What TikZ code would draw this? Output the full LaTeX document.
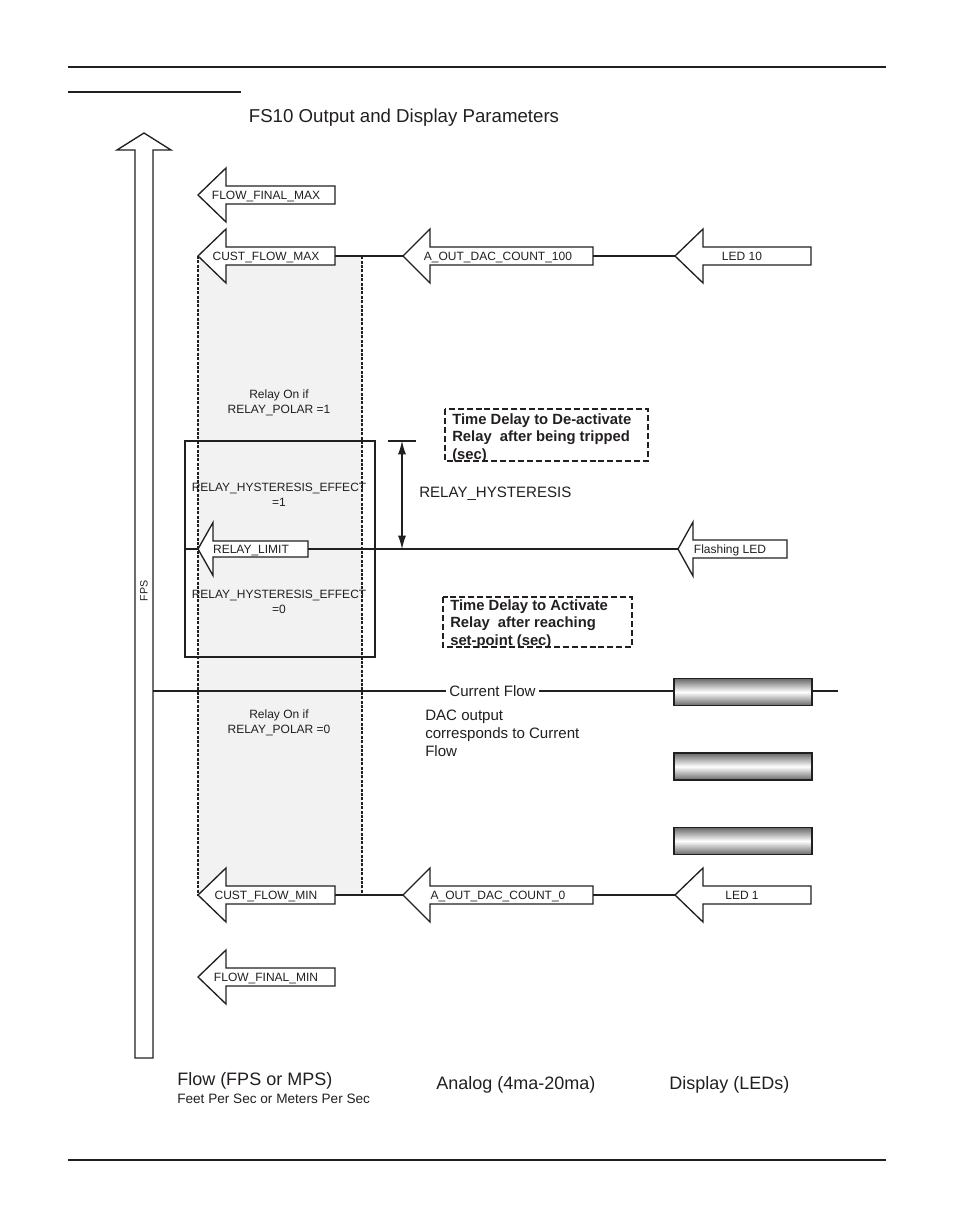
\documentclass[tikz,border=0pt]{standalone}
\usepackage{fontspec}
\setmainfont{Liberation Sans}
\usetikzlibrary{arrows.meta}
\definecolor{ink}{HTML}{231F20}
\definecolor{paleshade}{HTML}{F2F2F2}

% #1 name, #2 tip x, #3 y, #4 head back x, #5 body right x, #6 body half height, #7 head half height, #8 label x, #9 label
\newcommand{\blockarr}[9]{%
  \draw[abox] (#2,#3) -- (#4,#3-#7) -- (#4,#3-#6) -- (#5,#3-#6) -- (#5,#3+#6) -- (#4,#3+#6) -- (#4,#3+#7) -- cycle;
  \coordinate (#1-tip) at (#2,#3);
  \coordinate (#1-end) at (#5,#3);
  \node[lbl, anchor=base] (#1) at (#8,#3+4.4) {#9};
}

\begin{document}
\begin{tikzpicture}[x=0.75pt,y=-0.75pt,
  abox/.style={draw=ink, fill=white, line width=1pt, line join=miter},
  lbl/.style={font=\fontsize{9}{11}\selectfont, inner sep=0pt, text=ink},
  small/.style={font=\fontsize{9}{11.3}\selectfont, inner sep=0pt, text=ink, align=center},
  mid/.style={font=\fontsize{11.3}{13.5}\selectfont, inner sep=0pt, text=ink},
  boldtxt/.style={font=\fontsize{11.1}{13.1}\selectfont\bfseries, inner sep=0pt, text=ink, align=left},
  big/.style={font=\fontsize{13.5}{16}\selectfont, inner sep=0pt, text=ink},
  rule/.style={draw=ink, line width=1.5pt},
  conn/.style={draw=ink, line width=1pt},
  thickconn/.style={draw=ink, line width=2pt},
  dbox/.style={draw=ink, line width=1.1pt, dash pattern=on 4.5pt off 2.2pt},
  ledbar/.style={draw=ink, line width=1.2pt, minimum width=103.5pt, minimum height=20.5pt, inner sep=0pt,
     top color=gray!80!black, bottom color=gray!80!black, middle color=white}
]
\useasboundingbox (0,0) rectangle (954,1227);
\fill[white] (0,0) rectangle (954,1227);

% page rules
\draw[rule] (68,67) -- (886,67);
\draw[rule] (68,92) -- (241,92);
\draw[rule] (68,1160) -- (886,1160);

% title
\node[font=\fontsize{14}{16}\selectfont, inner sep=0pt, text=ink] (title) at (404,118) {FS10 Output and Display Parameters};

% shaded band
\fill[paleshade] (198,256) rectangle (362,895);

% relay box
\draw[draw=ink, line width=0.9pt] (185,441) rectangle (375,657);
\coordinate (rbox-left) at (185,549);

% band dashed edges
\draw[draw=ink, line width=1.1pt, dash pattern=on 2.2pt off 1.1pt] (198,256) -- (198,895) -- (362,895) -- (362,256) -- (335,256);

% texts inside band
\node[small] (polar1) at (279,402.5) {Relay On if\\RELAY\_POLAR =1};
\node[small] (hyst1) at (279,494.5) {RELAY\_HYSTERESIS\_EFFECT\\=1};
\node[small] (hyst0) at (279,602) {RELAY\_HYSTERESIS\_EFFECT\\=0};
\node[small] (polar0) at (279,722.5) {Relay On if\\RELAY\_POLAR =0};

% big FPS arrow
\draw[abox] (135,1058) -- (135,150) -- (117,150) -- (144,133) -- (171,150) -- (153,150) -- (153,1058) -- cycle;
\coordinate (shaft) at (153,691);
\node[lbl, rotate=90, font=\fontsize{8}{9}\selectfont] (fps) at (144,591) {FPS};

% block arrows
\blockarr{ffmax}{198}{195}{226}{335}{9}{27}{266}{FLOW\_FINAL\_MAX}
\blockarr{cfmax}{198}{256}{226}{335}{9}{27}{266}{CUST\_FLOW\_MAX}
\blockarr{aout100}{403}{256}{430}{593}{9}{27}{498}{A\_OUT\_DAC\_COUNT\_100}
\blockarr{led10}{675}{256}{703}{811}{9}{27}{742}{LED 10}
\blockarr{rlimit}{198}{549}{213}{308}{8}{26.5}{251}{RELAY\_LIMIT}
\blockarr{flash}{678}{549}{693}{787}{9}{27}{730}{Flashing LED}
\blockarr{cfmin}{198}{895}{226}{335}{9}{27}{266}{CUST\_FLOW\_MIN}
\blockarr{aout0}{403}{895}{430}{593}{9}{27}{498}{A\_OUT\_DAC\_COUNT\_0}
\blockarr{led1}{675}{895}{703}{811}{9}{27}{742}{LED 1}
\blockarr{ffmin}{198}{977}{226}{335}{9}{27}{266}{FLOW\_FINAL\_MIN}

% connectors
\draw[conn] (cfmax-end) -- (aout100-tip);
\draw[conn] (aout100-end) -- (led10-tip);
\draw[conn] (cfmin-end) -- (aout0-tip);
\draw[conn] (aout0-end) -- (led1-tip);
\draw[thickconn] (rlimit-end) -- (flash-tip);
\draw[thickconn] (rbox-left) -- (rlimit-tip);

% hysteresis dimension
\coordinate (hysttop-l) at (388,441);
\coordinate (hysttop-r) at (416,441);
\coordinate (hystbot-l) at (388,549);
\coordinate (hystbot-r) at (416,549);
\coordinate (hystA) at (402,441);
\coordinate (hystB) at (402,549);
\draw[conn, line width=0.8pt] (hysttop-l) -- (hysttop-r);
\draw[conn, line width=0.8pt] (hystbot-l) -- (hystbot-r);
\draw[conn, line width=0.8pt, {Latex[length=10pt,width=6pt]}-{Latex[length=10pt,width=6pt]}] (hystA) -- (hystB);
\node[mid, anchor=west] (hystlbl) at (419,494) {RELAY\_HYSTERESIS};

% time delay boxes
\draw[dbox] (445,409) rectangle (648,461);
\node[boldtxt, anchor=north west] (td1) at (452,413.5) {Time Delay to De-activate\\Relay\ \ after being tripped\\(sec)};
\draw[dbox] (443,597) rectangle (632,647);
\node[boldtxt, anchor=north west] (td2) at (450,599.5) {Time Delay to Activate\\Relay\ \ after reaching\\set-point (sec)};

% current flow
\node[mid, inner xsep=2.25pt] (cf) at (492.5,691) {Current Flow};
\node[ledbar] (bar1) at (743,692) {};
\node[ledbar] (bar2) at (743,766.5) {};
\node[ledbar] (bar3) at (743,841) {};
\coordinate (cfend) at (838,691);
\draw[conn, line width=1.3pt] (shaft) -- (cf.west);
\draw[conn, line width=1.3pt] (cf.east) -- (bar1.west |- cf.east);
\draw[conn, line width=1.3pt] (bar1.east |- cfend) -- (cfend);

\node[mid, anchor=north west, align=left] (dac) at (425,710) {DAC output\\corresponds to Current\\Flow};

% bottom labels
\node[big, anchor=west] (flowlbl) at (177,1081) {Flow (FPS or MPS)};
\node[font=\fontsize{10.2}{12}\selectfont, inner sep=0pt, text=ink, anchor=west] (flowsub) at (177,1099) {Feet Per Sec or Meters Per Sec};
\node[big, anchor=west] (analoglbl) at (436,1085) {Analog (4ma-20ma)};
\node[big, anchor=west] (displbl) at (669,1085) {Display (LEDs)};
\end{tikzpicture}
\end{document}
